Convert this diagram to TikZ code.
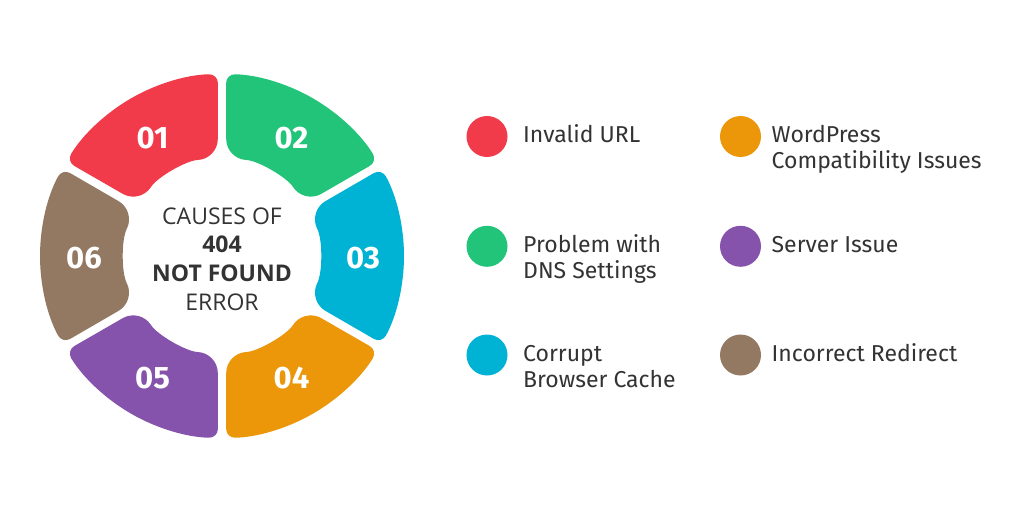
\documentclass[tikz,border=0pt]{standalone}
\usepackage{fontspec}
\setmainfont{Fira Sans}
\newfontfamily\centerfont{Open Sans}
\usepackage{tikz}
\usetikzlibrary{calc,positioning}
\definecolor{segRed}{HTML}{F23B4A}
\definecolor{segGreen}{HTML}{22C47A}
\definecolor{segCyan}{HTML}{00B2D4}
\definecolor{segOrange}{HTML}{EC9609}
\definecolor{segPurple}{HTML}{8553AB}
\definecolor{segBrown}{HTML}{937862}
\definecolor{txtGray}{HTML}{333333}
\tikzset{
  ring/outer/.style={rounded corners=9pt},
  ring/inner/.style={rounded corners=20pt},
  ring/num/.style={text=white, inner sep=0pt, font=\bfseries\fontsize{31}{32}\selectfont},
  ring/title/.style={align=center, inner sep=0pt, anchor=base, text=txtGray, font=\centerfont\fontsize{23}{28.6}\selectfont},
  lg/dot/.style={circle, inner sep=0pt, minimum size=41pt},
  lg/text/.style={anchor=base west, align=left, inner sep=0pt, text=txtGray, font=\fontsize{23}{26}\selectfont}
}
\newcommand{\Rout}{182pt}
\newcommand{\Rin}{97pt}
% one ring piece: colour, start angle, end angle
\newcommand{\ringseg}[3]{%
  \fill[#1] (#2+30:\Rout) [ring/outer] arc[start angle=#2+30, end angle=#3-1.3, radius=\Rout]
    [ring/inner] -- (#3-2.5:\Rin) arc[start angle=#3-2.5, end angle=#2+2.5, radius=\Rin]
    [ring/outer] -- (#2+1.3:\Rout) arc[start angle=#2+1.3, end angle=#2+30, radius=\Rout];}

\begin{document}
\begin{tikzpicture}[x=1pt,y=1pt]
  \useasboundingbox[fill=white] (0,0) rectangle (1024,512);
  % ring
  \begin{scope}[shift={(222,256)}]
    \ringseg{segRed}{90}{150}
    \ringseg{segGreen}{30}{90}
    \ringseg{segCyan}{-30}{30}
    \ringseg{segOrange}{-90}{-30}
    \ringseg{segPurple}{-150}{-90}
    \ringseg{segBrown}{150}{210}
    \node[ring/num] (n1) at ($(120:139)+(0,-2)$) {01};
    \node[ring/num] (n2) at ($(60:139)+(0,-2)$) {02};
    \node[ring/num] (n3) at ($(0:141)+(0,-2)$) {03};
    \node[ring/num] (n4) at ($(-60:139)+(0,-2)$) {04};
    \node[ring/num] (n5) at ($(-120:139)+(0,-2)$) {05};
    \node[ring/num] (n6) at ($(180:138)+(0,-2)$) {06};
    \node[ring/title] (title) at (0,-54) {CAUSES OF\\{\bfseries 404}\\{\bfseries NOT FOUND}\\ERROR};
  \end{scope}
  % legend
  \node[lg/dot, fill=segRed] (d1) at (487,375.5) {};
  \node[lg/dot, fill=segGreen] (d2) at (487,265.7) {};
  \node[lg/dot, fill=segCyan] (d3) at (487,157) {};
  \node[lg/dot, fill=segOrange] (d4) at (740.5,375.5) {};
  \node[lg/dot, fill=segPurple] (d5) at (740.5,265.7) {};
  \node[lg/dot, fill=segBrown] (d6) at (740.5,157) {};
  \node[lg/text] (t1) at ($(d1)+(36,-6)$) {Invalid URL};
  \node[lg/text] (t2) at ($(d2)+(36,-32)$) {Problem with\\DNS Settings};
  \node[lg/text] (t3) at ($(d3)+(36,-32)$) {Corrupt\\Browser Cache};
  \node[lg/text] (t4) at ($(d4)+(31,-32)$) {WordPress\\Compatibility Issues};
  \node[lg/text] (t5) at ($(d5)+(31,-6)$) {Server Issue};
  \node[lg/text] (t6) at ($(d6)+(31,-6)$) {Incorrect Redirect};
\end{tikzpicture}
\end{document}
